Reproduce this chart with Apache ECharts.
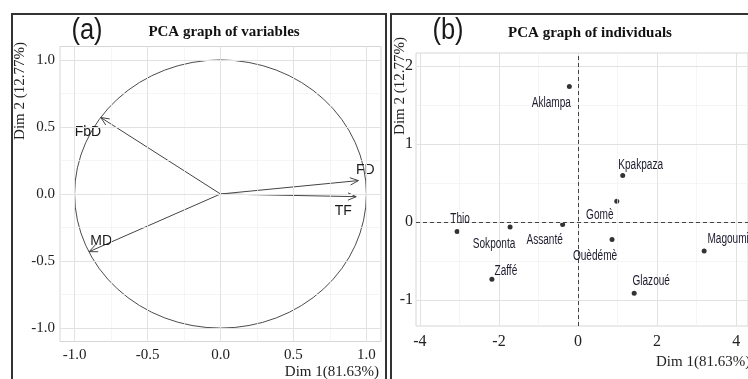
<!DOCTYPE html>
<html>
<head>
<meta charset="utf-8">
<script src="https://cdn.jsdelivr.net/npm/echarts@6/dist/echarts.min.js"></script>
<style>
  html, body { margin: 0; padding: 0; background: #fff; }
  #main { width: 748px; height: 379px; }
</style>
</head>
<body>
<div id="main"></div>
<script>
// (a) variables: arrow tips on the correlation circle
var varNames = ['FbD', 'FD', 'TF', 'MD'];
var varDim1 = [-0.82, 0.945, 0.93, -0.90];
var varDim2 = [0.57, 0.10, -0.02, -0.43];

// (b) individuals
var indNames = ['Aklampa', 'Kpakpaza', 'Gomè', 'Thio', 'Sokponta', 'Assanté', 'Ouèdémè', 'Zaffé', 'Glazoué', 'Magoumi'];
var indDim1 = [-0.22, 1.13, 0.98, -3.06, -1.72, -0.39, 0.86, -2.18, 1.42, 3.19];
var indDim2 = [1.74, 0.60, 0.27, -0.12, -0.06, -0.03, -0.22, -0.73, -0.91, -0.37];

// tick labels
var varTicks = [-1, -0.5, 0, 0.5, 1];
var varMinor = [-0.75, -0.25, 0.25, 0.75];
var indTicksX = [-4, -2, 0, 2, 4];
var indMinorX = [-3, -1, 1, 3];
var indTicksY = [-1, 0, 1, 2];
var indMinorY = [-0.5, 0.5, 1.5];

// label placement (pixels, relative to the mark)
var varLabelOff = { FbD: [-13, 15], FD: [7, -10], TF: [-13, 14], MD: [12, -11] };
var indLabelOff = {
    'Aklampa': [-18, 17], 'Kpakpaza': [18, -10], 'Gomè': [-17, 14], 'Thio': [3, -12],
    'Sokponta': [-16, 17], 'Assanté': [-18, 16], 'Ouèdémè': [-17, 17], 'Zaffé': [14, -8],
    'Glazoué': [17, -12], 'Magoumi': [24, -12]
};

var serif = 'Liberation Serif';

function gridLines(xs, ys, color, width) {
    var d = [];
    xs.forEach(function (v) { d.push({ xAxis: v }); });
    ys.forEach(function (v) { d.push({ yAxis: v }); });
    return { silent: true, symbol: ['none', 'none'], label: { show: false },
        lineStyle: { color: color, width: width, type: 'solid' }, data: d, animation: false };
}

var varData = varNames.map(function (n, i) { return [varDim1[i], varDim2[i]]; });
var indData = indNames.map(function (n, i) { return [indDim1[i], indDim2[i]]; });

var myChart = echarts.init(document.getElementById('main'));
myChart.setOption({
    backgroundColor: '#fff',
    animation: false,
    grid: [
        { left: 60, top: 46.5, width: 321, height: 295, show: true, borderColor: '#d6d6d6', borderWidth: 1, backgroundColor: '#fff' },
        { left: 416, top: 53, width: 343, height: 273, show: true, borderColor: '#d6d6d6', borderWidth: 1, backgroundColor: '#fff' }
    ],
    xAxis: [
        { gridIndex: 0, type: 'value', min: -1.1, max: 1.1,
          axisLine: { show: false }, splitLine: { show: false },
          axisTick: { show: true, length: 3, lineStyle: { color: '#999' }, customValues: varTicks },
          axisLabel: { customValues: varTicks, margin: 6, color: '#222', fontFamily: serif, fontSize: 15,
              formatter: function (v) { return v.toFixed(1); } } },
        { gridIndex: 1, type: 'value', min: -4.1, max: 4.3,
          axisLine: { show: false }, splitLine: { show: false },
          axisTick: { show: true, length: 3, lineStyle: { color: '#999' }, customValues: indTicksX },
          axisLabel: { customValues: indTicksX, margin: 8, color: '#222', fontFamily: serif, fontSize: 16 } }
    ],
    yAxis: [
        { gridIndex: 0, type: 'value', min: -1.1, max: 1.1,
          axisLine: { show: false }, splitLine: { show: false },
          axisTick: { show: true, length: 3, lineStyle: { color: '#999' }, customValues: varTicks },
          axisLabel: { customValues: varTicks, margin: 5, color: '#222', fontFamily: serif, fontSize: 15,
              formatter: function (v) { return v.toFixed(1); } } },
        { gridIndex: 1, type: 'value', min: -1.33, max: 2.17,
          axisLine: { show: false }, splitLine: { show: false },
          axisTick: { show: true, length: 3, lineStyle: { color: '#999' }, customValues: indTicksY },
          axisLabel: { customValues: indTicksY, margin: 3, color: '#222', fontFamily: serif, fontSize: 16 } }
    ],
    series: [
        // grid lines, left
        { type: 'line', xAxisIndex: 0, yAxisIndex: 0, data: [], z: 1, silent: true,
          markLine: gridLines(varMinor, varMinor, '#f0f0f0', 0.7) },
        { type: 'line', xAxisIndex: 0, yAxisIndex: 0, data: [], z: 1, silent: true,
          markLine: gridLines(varTicks, varTicks, '#e2e2e2', 1) },
        // grid lines, right
        { type: 'line', xAxisIndex: 1, yAxisIndex: 1, data: [], z: 1, silent: true,
          markLine: gridLines(indMinorX, indMinorY, '#f0f0f0', 0.7) },
        { type: 'line', xAxisIndex: 1, yAxisIndex: 1, data: [], z: 1, silent: true,
          markLine: gridLines(indTicksX, indTicksY, '#e2e2e2', 1) },
        // dashed axes, left (inside circle)
        { type: 'lines', coordinateSystem: 'cartesian2d', xAxisIndex: 0, yAxisIndex: 0, z: 2, silent: true,
          lineStyle: { color: '#333', width: 1, type: [4, 3], opacity: 1 },
          data: [{ coords: [[-1, 0], [1, 0]] }, { coords: [[0, -1], [0, 1]] }] },
        // dashed axes, right
        { type: 'line', xAxisIndex: 1, yAxisIndex: 1, data: [], z: 2, silent: true,
          markLine: { silent: true, symbol: ['none', 'none'], label: { show: false },
              lineStyle: { color: '#444', width: 1, type: [4, 3] },
              data: [{ xAxis: 0 }, { yAxis: 0 }] } },
        // correlation circle
        { type: 'custom', xAxisIndex: 0, yAxisIndex: 0, z: 3, silent: true, data: [[0, 0]],
          renderItem: function (params, api) {
              var c = api.coord([0, 0]);
              var s = api.size([1, 1]);
              return { type: 'circle', x: c[0], y: c[1], scaleY: s[1] / s[0],
                  shape: { cx: 0, cy: 0, r: s[0] },
                  style: { fill: 'none', stroke: '#444', lineWidth: 1, strokeNoScale: true } };
          } },
        // variable arrows
        { type: 'custom', xAxisIndex: 0, yAxisIndex: 0, z: 4, silent: true, data: varData,
          renderItem: function (params, api) {
              var name = varNames[params.dataIndex];
              var p0 = api.coord([0, 0]);
              var p1 = api.coord([api.value(0), api.value(1)]);
              var ang = Math.atan2(p1[1] - p0[1], p1[0] - p0[0]);
              var L = 9, w = 0.42;
              var a = [p1[0] - L * Math.cos(ang - w), p1[1] - L * Math.sin(ang - w)];
              var b = [p1[0] - L * Math.cos(ang + w), p1[1] - L * Math.sin(ang + w)];
              var off = varLabelOff[name];
              return { type: 'group', children: [
                  { type: 'line', shape: { x1: p0[0], y1: p0[1], x2: p1[0], y2: p1[1] },
                    style: { stroke: '#444', lineWidth: 1 } },
                  { type: 'polyline', shape: { points: [a, p1, b] },
                    style: { stroke: '#444', lineWidth: 1, fill: 'none' } },
                  { type: 'text', x: p1[0] + off[0], y: p1[1] + off[1],
                    style: { text: name, align: 'center', verticalAlign: 'middle',
                        font: '14px "Liberation Sans", Arial, sans-serif', fill: '#1a1a1a' } }
              ] };
          } },
        // individuals: points
        { type: 'scatter', xAxisIndex: 1, yAxisIndex: 1, z: 4, data: indData, silent: true,
          symbol: 'circle', symbolSize: 5, itemStyle: { color: '#000' } },
        // individuals: condensed labels
        { type: 'custom', xAxisIndex: 1, yAxisIndex: 1, z: 5, silent: true, data: indData, clip: false,
          renderItem: function (params, api) {
              var name = indNames[params.dataIndex];
              var p = api.coord([api.value(0), api.value(1)]);
              var off = indLabelOff[name];
              return { type: 'text', x: p[0] + off[0], y: p[1] + off[1], scaleX: 0.72,
                  style: { text: name, align: 'center', verticalAlign: 'middle',
                      font: '14px "Liberation Sans", Arial, sans-serif', fill: '#1c1c2e' } };
          } }
    ],
    graphic: [
        { type: 'rect', z: 100, shape: { x: 12, y: 14, width: 374, height: 420 },
          style: { fill: 'none', stroke: '#333', lineWidth: 2 } },
        { type: 'rect', z: 100, shape: { x: 391, y: 14, width: 400, height: 420 },
          style: { fill: 'none', stroke: '#333', lineWidth: 2 } },
        { type: 'text', z: 100, x: 87, y: 31, scaleX: 0.85, style: { text: '(a)', font: '30px "Liberation Sans", sans-serif', fill: '#1a1a1a', align: 'center', verticalAlign: 'middle' } },
        { type: 'text', z: 100, x: 448, y: 31, scaleX: 0.85, style: { text: '(b)', font: '30px "Liberation Sans", sans-serif', fill: '#1a1a1a', align: 'center', verticalAlign: 'middle' } },
        { type: 'text', z: 100, x: 224, y: 32, style: { text: 'PCA graph of variables', font: 'bold 15px "Liberation Serif", serif', fill: '#111', align: 'center', verticalAlign: 'middle' } },
        { type: 'text', z: 100, x: 590, y: 33, style: { text: 'PCA graph of individuals', font: 'bold 15px "Liberation Serif", serif', fill: '#111', align: 'center', verticalAlign: 'middle' } },
        { type: 'text', z: 100, x: 20, y: 91, rotation: Math.PI / 2, style: { text: 'Dim 2 (12.77%)', font: '15px "Liberation Serif", serif', fill: '#222', align: 'center', verticalAlign: 'middle' } },
        { type: 'text', z: 100, x: 400, y: 86, rotation: Math.PI / 2, style: { text: 'Dim 2 (12.77%)', font: '15px "Liberation Serif", serif', fill: '#222', align: 'center', verticalAlign: 'middle' } },
        { type: 'text', z: 100, x: 379, y: 372, style: { text: 'Dim 1(81.63%)', font: '15px "Liberation Serif", serif', fill: '#222', align: 'right', verticalAlign: 'middle' } },
        { type: 'text', z: 100, x: 656, y: 362, style: { text: 'Dim 1(81.63%)', font: '15px "Liberation Serif", serif', fill: '#222', align: 'left', verticalAlign: 'middle' } }
    ]
});
</script>
</body>
</html>
